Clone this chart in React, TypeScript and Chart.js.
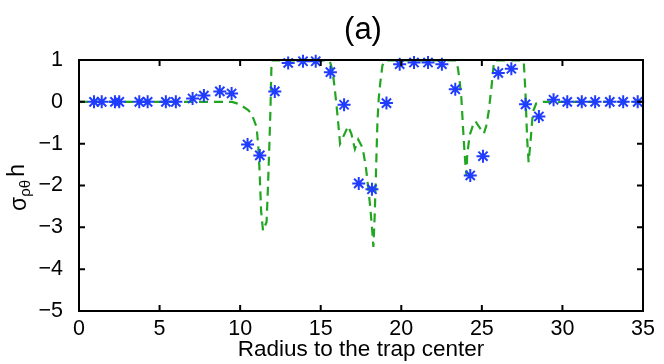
import React, { useEffect, useRef } from 'react';
import { Chart, registerables } from 'chart.js';

Chart.register(...registerables);

// Blue asterisk markers (data points)
const markerX = [0.93, 1.41, 2.23, 2.5, 3.74, 4.26, 5.39, 6.01, 7.05, 7.75, 8.74, 9.47, 10.46, 11.22, 12.15, 12.98, 13.9, 14.69, 15.6, 16.45, 17.36, 18.18, 19.08, 19.9, 20.79, 21.66, 22.52, 23.35, 24.28, 25.07, 26.02, 26.83, 27.71, 28.54, 29.45, 30.3, 31.2, 32.03, 32.94, 33.77, 34.67];
const markerY = [0, 0, 0, 0, 0, 0, 0, 0, 0.08, 0.15, 0.25, 0.2, -1.02, -1.28, 0.25, 0.93, 0.97, 0.97, 0.71, -0.07, -1.95, -2.09, -0.03, 0.9, 0.94, 0.94, 0.9, 0.3, -1.76, -1.3, 0.69, 0.79, -0.06, -0.35, 0.05, 0, 0, 0, 0, 0, 0];

// Green dashed curve
const lineX = [0, 9.5, 9.98, 10.5, 10.7, 11.02, 11.12, 11.2, 11.3, 11.42, 11.64, 11.72, 11.8, 11.88, 11.95, 15.55, 15.73, 15.87, 15.98, 16.08, 16.2, 16.7, 16.9, 17.12, 17.33, 17.6, 17.8, 18.0, 18.1, 18.2, 18.27, 18.35, 18.4, 18.46, 18.52, 18.6, 18.7, 18.83, 19.0, 23.41, 23.52, 23.62, 23.73, 23.87, 23.97, 24.04, 24.09, 24.24, 24.45, 24.6, 24.76, 25.13, 25.28, 25.42, 25.59, 25.69, 25.75, 25.85, 27.55, 27.6, 27.65, 27.71, 27.81, 27.9, 28.02, 28.1, 28.17, 28.37, 28.79, 34.67];
const lineY = [0, 0, -0.06, -0.2, -0.28, -0.6, -1.04, -1.6, -2.6, -3.08, -2.87, -2.1, -1.2, -0.2, 0.99, 0.99, 0.75, 0.32, -0.08, -0.48, -1.0, -0.58, -0.76, -1.13, -0.9, -1.1, -1.55, -2.23, -2.63, -3.1, -3.47, -2.71, -2.07, -1.28, -0.48, 0.08, 0.47, 0.87, 0.99, 0.99, 0.79, 0.51, 0.08, -0.88, -1.44, -1.75, -1.28, -0.8, -0.56, -0.46, -0.56, -0.76, -0.56, -0.24, 0.32, 0.71, 0.95, 0.99, 0.99, 0.95, 0.63, 0.16, -0.88, -1.44, -0.96, -0.56, -0.24, -0.04, 0, 0];

const xTicks = [0, 5, 10, 15, 20, 25, 30, 35];
const yTicks = [-5, -4, -3, -2, -1, 0, 1];
const titleText = '(a)';
const xLabel = 'Radius to the trap center';

const FONT = '"Liberation Sans", Arial, Helvetica, sans-serif';
const BLUE = '#1f3cff';
const GREEN = '#22a622';

export default function App() {
  const ref = useRef<HTMLCanvasElement>(null);

  useEffect(() => {
    const canvas = ref.current;
    if (!canvas) return;

    const framePlugin = {
      id: 'frameAndLabels',
      afterDatasetsDraw(chart: any) {
        const { ctx, chartArea: a, scales } = chart;
        ctx.save();
        ctx.strokeStyle = '#000';
        ctx.lineWidth = 2;
        ctx.strokeRect(a.left, a.top, a.right - a.left, a.bottom - a.top);
        const tl = 6;
        ctx.beginPath();
        xTicks.forEach((v) => {
          const px = scales.x.getPixelForValue(v);
          ctx.moveTo(px, a.bottom);
          ctx.lineTo(px, a.bottom - tl);
          ctx.moveTo(px, a.top);
          ctx.lineTo(px, a.top + tl);
        });
        yTicks.forEach((v) => {
          const py = scales.y.getPixelForValue(v);
          ctx.moveTo(a.left, py);
          ctx.lineTo(a.left + tl, py);
          ctx.moveTo(a.right, py);
          ctx.lineTo(a.right - tl, py);
        });
        ctx.stroke();

        ctx.fillStyle = '#000';
        // Title
        ctx.font = `31px ${FONT}`;
        ctx.textAlign = 'center';
        ctx.textBaseline = 'alphabetic';
        ctx.fillText(titleText, (a.left + a.right) / 2 + 2, 39);

        // X label
        ctx.font = `22.5px ${FONT}`;
        ctx.fillText(xLabel, (a.left + a.right) / 2, 356);

        // Y label: sigma_{rho theta} h
        const cy = (a.top + a.bottom) / 2 + 2;
        ctx.translate(22, cy);
        ctx.rotate(-Math.PI / 2);
        ctx.textAlign = 'left';
        const big = `23px ${FONT}`;
        const small = `15px ${FONT}`;
        ctx.font = big;
        const wS = ctx.measureText('σ').width;
        const wH = ctx.measureText('h').width;
        ctx.font = small;
        const wSub = ctx.measureText('ρθ').width;
        const gap = 3;
        const total = wS + wSub + gap + wH;
        let u = -total / 2;
        ctx.font = big;
        ctx.fillText('σ', u, 4);
        u += wS;
        ctx.font = small;
        ctx.fillText('ρθ', u, 8);
        u += wSub + gap;
        ctx.font = big;
        ctx.fillText('h', u, 2);
        ctx.restore();
      },
    };

    const chart = new Chart(canvas, {
      type: 'scatter',
      data: {
        datasets: [
          {
            label: 'points',
            data: markerX.map((x, i) => ({ x, y: markerY[i] })),
            showLine: false,
            pointStyle: 'star',
            pointRadius: 6.5,
            pointBorderWidth: 2,
            pointBorderColor: BLUE,
            pointBackgroundColor: BLUE,
            borderColor: BLUE,
            backgroundColor: BLUE,
            clip: false as any,
            order: 0,
          },
          {
            label: 'curve',
            data: lineX.map((x, i) => ({ x, y: lineY[i] })),
            showLine: true,
            borderColor: GREEN,
            borderWidth: 2.2,
            borderDash: [9, 6],
            pointRadius: 0,
            fill: false,
            tension: 0,
            order: 1,
          },
        ],
      },
      options: {
        responsive: false,
        animation: false,
        devicePixelRatio: 1,
        layout: { padding: { left: 0, right: 21, top: 60, bottom: 0 } },
        plugins: {
          legend: { display: false },
          tooltip: { enabled: false },
          title: { display: false },
        },
        scales: {
          x: {
            type: 'linear',
            min: 0,
            max: 35,
            grid: { display: false },
            border: { display: false },
            afterFit: (s: any) => { s.height = 53; },
            afterBuildTicks: (s: any) => { s.ticks = xTicks.map((v) => ({ value: v })); },
            ticks: {
              autoSkip: false,
              maxRotation: 0,
              padding: -3,
              color: '#000',
              font: { family: FONT, size: 21.5 },
              callback: (v: any) => String(v),
            },
          },
          y: {
            type: 'linear',
            min: -5,
            max: 1,
            grid: { display: false },
            border: { display: false },
            afterFit: (s: any) => { s.width = 79; },
            afterBuildTicks: (s: any) => { s.ticks = yTicks.map((v) => ({ value: v })); },
            ticks: {
              autoSkip: false,
              padding: 8,
              color: '#000',
              font: { family: FONT, size: 21.5 },
              callback: (v: any) => (v < 0 ? '\u2212' + Math.abs(v) : String(v)),
            },
          },
        },
      },
      plugins: [framePlugin],
    });

    return () => chart.destroy();
  }, []);

  return (
    <div style={{ position: 'fixed', left: 0, top: 0, width: 664, height: 364, background: '#fff' }}>
      <canvas ref={ref} width={664} height={364} />
    </div>
  );
}
